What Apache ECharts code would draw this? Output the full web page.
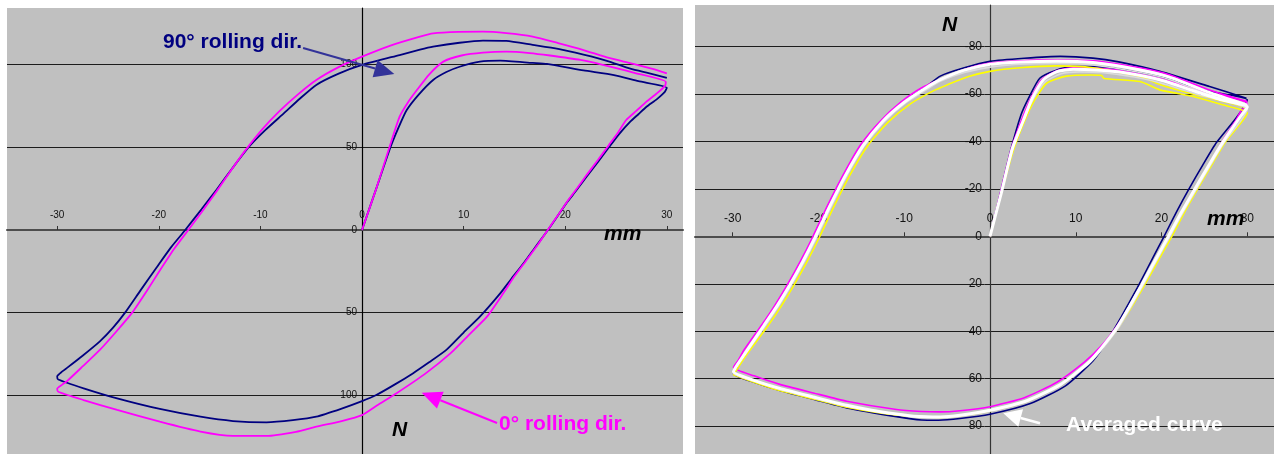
<!DOCTYPE html>
<html><head><meta charset="utf-8">
<script src="https://cdn.jsdelivr.net/npm/echarts@6/dist/echarts.min.js"></script>
<style>html,body{margin:0;padding:0;background:#fff;}#c{width:1274px;height:454px;}</style>
</head><body><div id="c"></div>
<script>
// ---- tick values ----
const xTicks = [-30, -20, -10, 0, 10, 20, 30];
const leftYTicks = [-100, -50, 0, 50, 100];
const rightYTicks = [-80, -60, -40, -20, 0, 20, 40, 60, 80];

// ---- left chart: 90° rolling direction (navy) ----
const L90_load = [[0,0],[1.4,-25],[2.8,-50],[3.6,-62],[4.4,-72.5],[5.6,-82],[7.0,-90.7],[8.3,-95.5],[9.6,-98.7],[11.6,-101.8],[13.6,-102.4],[16.8,-101],[18.2,-100.4],[21.8,-96.5],[24.8,-93.7],[27.2,-90],[30,-86]];
const L90_unload = [[29.8,-83.5],[29,-79],[28,-74.5],[27.2,-70],[26.4,-65.5],[25.3,-58],[24.3,-50],[23.2,-41],[22.1,-32.2],[21.1,-24],[20.1,-16.1],[19.2,-8],[18.3,0],[17.1,10],[15.9,20.1],[14.7,29.5],[13.6,38.3],[11.6,52.4],[10,62],[8.3,72.5],[6.6,80],[5,86.7],[3.2,93.5],[1.4,99.8],[0,103.5],[-2,108],[-4.5,112.9],[-6.8,115],[-9.4,116.3],[-12.7,115.5],[-15.9,112.9],[-19.9,108.2],[-24.1,101.8],[-27.4,95.7],[-29.9,90.4],[-30,88.5]];
const L90_reload = [[-29.5,85.5],[-29.0,83.2],[-27.5,76],[-25.8,67.3],[-24.5,59],[-23.3,49.8],[-21.8,36.5],[-20.2,22.5],[-18.8,10.5],[-17.4,0],[-15.8,-12.5],[-14.3,-24.5],[-12.8,-37],[-11.2,-49.8],[-9.5,-60.5],[-7.7,-70.5],[-6.1,-79.5],[-4.5,-87.7],[-2.3,-94.5],[0,-99.8],[3.7,-105.8],[5.7,-109],[7.0,-110.8],[9.6,-113.2],[11.9,-114.5],[14.2,-114.3],[16.8,-111.9],[19.3,-109.5],[21.8,-106],[24.1,-102.3],[26.4,-97.5],[28.2,-94.8],[30,-92]];

// ---- left chart: 0° rolling direction (magenta) ----
const L0_load = [[0,0],[1.4,-25],[2.7,-50],[3.7,-68.5],[4.5,-77],[5.4,-84.6],[6.6,-94],[8.0,-101.8],[9.8,-105.5],[11.9,-107.2],[14.2,-107.8],[16.5,-107],[18.5,-105.5],[21.5,-102.8],[23.6,-100],[26.7,-95.2],[29.9,-89.5]];
const L0_unload = [[29.8,-87],[29,-82.5],[28,-77.6],[27,-72],[26,-66.5],[25.2,-59],[24.3,-51.4],[23.2,-42.2],[22.1,-33.2],[21.2,-25.5],[20.3,-18.1],[19.4,-10],[18.5,-2],[17.4,8],[16.2,18.1],[15,28],[13.9,38.3],[12.3,52.4],[10.5,63.5],[8.7,74.6],[6.2,87],[3.4,98.7],[1.5,106],[0,111.9],[-2,115.5],[-4.5,118.9],[-6.5,122],[-9.4,124.5],[-12.7,124.5],[-15.9,121.9],[-19.9,115.9],[-24.1,108.8],[-27.4,102.8],[-29.9,97.8],[-30,96]];
const L0_reload = [[-29.5,93.5],[-29.0,91.2],[-27.5,82.5],[-25.8,72.5],[-24.2,61.5],[-22.6,49.8],[-21.2,37],[-19.9,24.5],[-18.5,11.5],[-17.1,0],[-15.7,-11.5],[-14.3,-23.5],[-12.9,-36],[-11.5,-48],[-9.8,-61],[-8.1,-72],[-6.3,-82],[-4.5,-90.7],[-2.3,-98.5],[0,-104.8],[2.8,-111.5],[5.7,-116.9],[7.0,-118.9],[9.5,-119.8],[11.9,-119.9],[14.2,-119],[16.8,-116.9],[19.3,-113],[21.8,-108.8],[24.3,-104],[26.7,-100.5],[28.5,-97.5],[30,-94.7]];

// ---- right chart: individual tests and averaged curve ----
const R_navy_load = [[0,0],[1.2,-18],[2.4,-36],[3.6,-51],[4.5,-58.2],[5.8,-66.6],[7.8,-70.1],[9.7,-71.5],[12.4,-71.5],[15,-70.5],[19.8,-67.3],[25,-61.5],[30,-57.5]];
const R_navy_unload = [[29.4,-53.5],[28.4,-48.5],[26.4,-39.5],[24.8,-30],[23.2,-20],[21.7,-10],[20.3,0],[19,9],[17.2,21.5],[15.3,34],[13.6,44.5],[12,52.5],[8.8,63],[4.7,70.5],[0,75],[-3.5,76.8],[-6,77.5],[-8,77.4],[-10.9,76],[-16.7,72.3],[-20.6,68.7],[-24.5,65],[-27.5,61.5],[-29.9,58]];
const R_navy_reload = [[-29.6,56.5],[-28.3,48.5],[-26.3,37.8],[-24.7,29.2],[-23.2,20.3],[-21.7,10.5],[-20.3,0.5],[-18.6,-12.5],[-16.7,-26],[-14.7,-38.5],[-12.4,-49],[-9.9,-57],[-7.4,-63.2],[-5.8,-67.5],[-3,-71],[0,-73.7],[4,-75],[8.2,-75.8],[12,-75.1],[15,-73.5],[19.8,-69.5],[25.6,-63.1],[29.9,-58.2]];

const R_mag_load = [[0,0],[1.2,-18],[2.5,-37],[3.8,-50],[4.8,-58.5],[6,-66],[7.8,-69.8],[9.7,-71],[12.4,-70.8],[15,-70],[19.8,-66.5],[25,-61],[30,-56]];
const R_mag_unload = [[29.3,-53],[28.6,-48.5],[27.1,-40],[25.6,-30.5],[23.9,-20],[22.3,-10],[20.8,0],[19.5,8.5],[17.6,21],[16.1,30.5],[14.6,38.8],[12.9,46.5],[11,53],[7.8,61.5],[4,68],[0,71.8],[-3.5,73.5],[-5.8,74],[-8,73.8],[-10.9,73],[-16.7,69.5],[-20.6,66],[-24.5,62.4],[-27.5,58.8],[-29.9,55.3]];
const R_mag_reload = [[-29.4,52.5],[-28.6,47.5],[-26.7,37.8],[-25.1,29.2],[-23.6,20.3],[-22.1,10.5],[-20.7,0.5],[-19,-12.5],[-17.1,-26],[-15.1,-38.5],[-12.8,-48.5],[-10.4,-56.5],[-8,-62.5],[-5,-67.3],[-2.5,-70.8],[0,-73],[5.8,-74.3],[12,-74],[17.5,-71],[21,-68],[25.3,-62],[30,-56.8]];

const R_yel_load = [[0,0],[1.3,-18],[2.8,-37],[4.2,-50],[5.2,-57.4],[6.6,-64.5],[8.9,-67.5],[11.7,-68],[13,-67.8],[13.3,-66.5],[17.5,-65.2],[19.8,-61.7],[23.7,-58.9],[27,-55.5],[30,-52]];
const R_yel_unload = [[29.2,-47.5],[27.5,-40],[26.0,-31],[24.3,-20.5],[22.7,-10.3],[21.2,0],[19.8,9],[17.9,21.3],[16.4,30.5],[15,38.3],[13.2,46.5],[11.5,53],[8.4,62],[4.4,69.3],[0,73.5],[-3.5,75.6],[-5.8,76.3],[-10.9,75.3],[-16.7,72],[-20.6,68.5],[-24.5,65],[-27.5,61.5],[-29.9,58.3]];
const R_yel_reload = [[-29.9,58.5],[-28.3,49.5],[-25.9,37.8],[-24.3,29.2],[-22.8,20.3],[-21.3,10.5],[-19.9,0.5],[-18.2,-12.5],[-16.3,-26],[-14.2,-38.5],[-11.9,-48],[-9.2,-56],[-6.5,-61.5],[-5,-63.8],[-2.5,-67.3],[0,-69.5],[3.5,-71],[7.8,-71.8],[12,-71],[17.5,-67.3],[19.8,-64],[23.3,-60.3],[27,-57],[29.5,-54.6],[30,-53.5]];

const R_gray_load = [[0,0],[1.3,-18],[2.7,-37],[4.0,-49.5],[5,-57.5],[6.4,-65],[8.3,-68.5],[10.5,-69.3],[13,-69],[17,-67],[20,-64.5],[24,-60],[30,-53.5]];
const R_gray_unload = [[29.2,-48.5],[27.4,-40],[25.8,-30.5],[24.1,-20],[22.5,-10],[21,0],[19.7,8.5],[17.8,21],[16.4,30],[15,38.5],[13.2,47],[11.5,53.8],[8.3,62.5],[4.3,69.3],[0,73.4],[-3.5,75.5],[-5.8,76.2],[-10.9,75],[-16.7,71.6],[-20.6,68.1],[-24.5,64.5],[-27.5,61],[-29.9,57.6]];
const R_gray_reload = [[-29.6,54.5],[-28.2,48],[-26.2,37.8],[-24.6,29.2],[-23.1,20.3],[-21.6,10.5],[-20.2,0.5],[-18.5,-12.5],[-16.6,-26],[-14.6,-38.3],[-12.3,-48.3],[-9.8,-56.3],[-7.3,-62],[-5.8,-65.3],[-3,-69],[0,-71.3],[3.5,-72.5],[7.8,-72.8],[12,-72.2],[17.5,-69],[21,-66],[25.3,-60],[30,-54.5]];

const R_avg_load = [[0,0],[1.3,-18],[2.6,-37],[3.9,-49],[4.9,-58],[6.2,-65.9],[7.8,-69.4],[9.7,-70.4],[12.4,-70.1],[15,-69.3],[19.8,-66],[24,-61],[27,-57.5],[30,-54.5]];
const R_avg_unload = [[29.1,-50],[27.2,-40],[25.6,-30.5],[23.9,-20],[22.3,-10],[20.8,0],[19.5,8.5],[17.6,21],[16.2,30],[14.8,38.5],[13,47],[11.3,53.8],[8.2,62.5],[4.3,69.3],[0,73.3],[-3.5,75.4],[-5.8,76.1],[-8.9,75.8],[-10.9,74.9],[-13.8,73.3],[-16.7,71.2],[-20.6,67.7],[-24.5,64.1],[-27.5,60.7],[-29.9,57.1]];
const R_avg_reload = [[-29.6,55],[-28.4,48.5],[-26.4,37.8],[-24.8,29.2],[-23.3,20.3],[-21.8,10.5],[-20.4,0.5],[-18.7,-12.5],[-16.8,-26],[-14.8,-38.2],[-12.5,-48.5],[-10,-56.5],[-7.5,-62.5],[-5.8,-66],[-3,-70],[0,-72.5],[3.5,-73.5],[7.8,-73.8],[12,-73.2],[17.5,-70.1],[21,-67],[25.3,-61],[30,-55.3]];

// ---- annotation anchors (data coordinates) ----
const arrow90 = { grid: 0, from: [-5.8, -110.0], to: [3.18, -94.3] };
const arrow0 = { grid: 0, from: [13.29, 116.7], to: [5.88, 98.4] };
const arrowAvg = { grid: 1, from: [5.83, 78.8], to: [1.55, 74.6] };

const FONT = '"Liberation Sans", Arial, sans-serif';

// ---- layout ----
const G = [
  { left: 7, top: 8, width: 676, height: 446, xMin: -34.94, xMax: 31.59, yMin: -134.22, yMax: 135.43 },
  { left: 695, top: 5, width: 579, height: 449, xMin: -34.39, xMax: 33.11, yMin: -97.47, yMax: 91.74 }
];
// place each axis on the other axis' zero line
function xOffset(g) { const py0 = g.top + g.height * (0 - g.yMin) / (g.yMax - g.yMin); return -(g.top + g.height - py0); }
function yOffset(g) { const px0 = g.left + g.width * (0 - g.xMin) / (g.xMax - g.xMin); return -(px0 - g.left); }

function xAxisCfg(i, fontSize, margin) {
  const g = G[i];
  return {
    type: 'value', gridIndex: i, min: g.xMin, max: g.xMax, position: 'bottom', offset: xOffset(g),
    axisLine: { show: true, onZero: false, lineStyle: { color: '#4d4d4d', width: 2 } },
    axisTick: { show: true, inside: true, length: 4, customValues: xTicks, lineStyle: { color: '#333', width: 1 } },
    axisLabel: { show: true, inside: true, margin, customValues: xTicks, color: '#111', fontSize, fontFamily: FONT },
    splitLine: { show: false }
  };
}
function yAxisCfg(i, ticks, fontSize, margin, lineColor) {
  const g = G[i];
  return {
    type: 'value', gridIndex: i, min: g.yMin, max: g.yMax, inverse: true, position: 'left', offset: yOffset(g),
    axisLine: { show: true, onZero: false, lineStyle: { color: lineColor, width: 1.2 } },
    axisTick: { show: false, customValues: ticks },
    axisLabel: { show: true, margin, customValues: ticks, color: '#111', fontSize, fontFamily: FONT },
    splitLine: { show: true, lineStyle: { color: '#1c1c1c', width: 1 } }
  };
}
function lineSeries(i, data, color, width, z) {
  return {
    type: 'line', xAxisIndex: i, yAxisIndex: i, data, showSymbol: false, symbol: 'none',
    smooth: 0.2, lineStyle: { color, width }, z, animation: false, silent: true
  };
}

const chart = echarts.init(document.getElementById('c'), null, { renderer: 'canvas' });
chart.setOption({
  animation: false,
  backgroundColor: '#ffffff',
  grid: G.map(g => ({ left: g.left, top: g.top, width: g.width, height: g.height, show: true, backgroundColor: '#c0c0c0', borderWidth: 0, containLabel: false, outerBoundsMode: 'none' })),
  xAxis: [xAxisCfg(0, 10, 10), xAxisCfg(1, 12, 12)],
  yAxis: [yAxisCfg(0, leftYTicks, 10, 5, '#000'), yAxisCfg(1, rightYTicks, 12, 8, '#333')],
  series: [
    lineSeries(0, L90_load.concat(L90_unload, L90_reload), '#000080', 1.8, 3),
    lineSeries(0, L0_load.concat(L0_unload, L0_reload), '#ff00ff', 1.8, 4),
    lineSeries(1, R_navy_load.concat(R_navy_unload, R_navy_reload), '#000080', 1.6, 3),
    lineSeries(1, R_mag_load.concat(R_mag_unload, R_mag_reload), '#ff00ff', 1.6, 4),
    lineSeries(1, R_yel_load.concat(R_yel_unload, R_yel_reload), '#ffff00', 1.6, 5),
    lineSeries(1, R_gray_load.concat(R_gray_unload, R_gray_reload), '#dcdcdc', 1.6, 6),
    lineSeries(1, R_avg_load.concat(R_avg_unload, R_avg_reload), '#ffffff', 3, 7)
  ]
});

function arrowGraphics(a, color, width, headLen, headHalf) {
  const p0 = chart.convertToPixel({ gridIndex: a.grid }, a.from);
  const p1 = chart.convertToPixel({ gridIndex: a.grid }, a.to);
  const dx = p1[0] - p0[0], dy = p1[1] - p0[1];
  const len = Math.sqrt(dx * dx + dy * dy);
  const ux = dx / len, uy = dy / len;
  const bx = p1[0] - ux * headLen, by = p1[1] - uy * headLen;
  const px = -uy * headHalf, py = ux * headHalf;
  return [
    { type: 'line', z: 100, shape: { x1: p0[0], y1: p0[1], x2: bx, y2: by }, style: { stroke: color, lineWidth: width } },
    { type: 'polygon', z: 100, shape: { points: [[p1[0], p1[1]], [bx + px, by + py], [bx - px, by - py]] }, style: { fill: color } }
  ];
}
function label(x, y, text, color, style) {
  return { type: 'text', z: 101, x, y, style: { text, fill: color, font: style + ' 21px ' + FONT, align: 'left', verticalAlign: 'middle' } };
}

chart.setOption({
  graphic: [].concat(
    arrowGraphics(arrow90, '#333399', 2, 20, 9),
    arrowGraphics(arrow0, '#ff00ff', 2, 20, 9),
    arrowGraphics(arrowAvg, '#ffffff', 2.5, 18, 9),
    [
      label(163, 42.5, '90° rolling dir.', '#000080', 'bold'),
      label(499, 424.4, '0° rolling dir.', '#ff00ff', 'bold'),
      label(604, 234.4, 'mm', '#000000', 'italic bold'),
      label(392, 430.7, 'N', '#000000', 'italic bold'),
      label(942, 25.7, 'N', '#000000', 'italic bold'),
      label(1207, 219.7, 'mm', '#000000', 'italic bold'),
      label(1066, 425.7, 'Averaged curve', '#ffffff', 'bold')
    ]
  )
});
</script>
</body></html>
